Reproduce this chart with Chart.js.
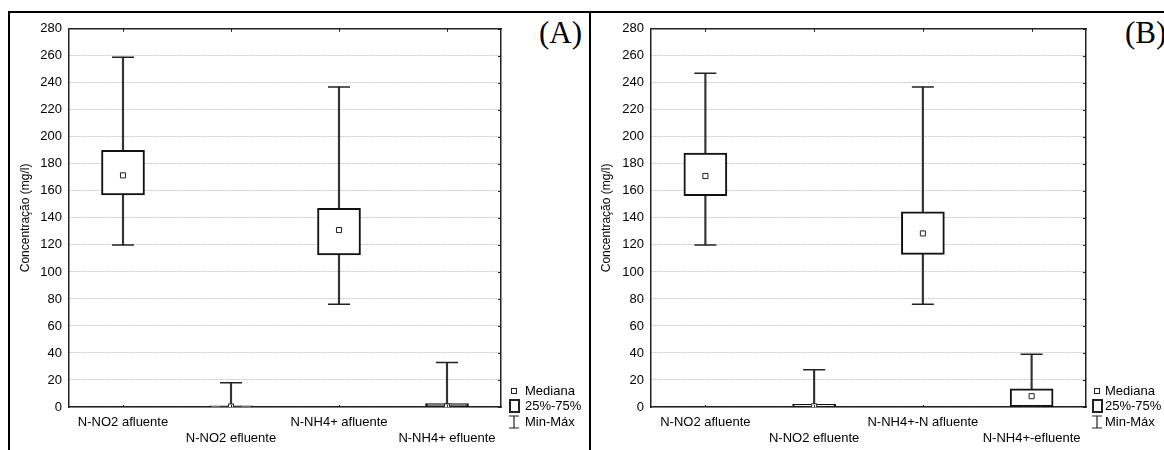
<!DOCTYPE html>
<html>
<head>
<meta charset="utf-8">
<script src="https://cdn.jsdelivr.net/npm/chart.js@4.4.1/dist/chart.umd.min.js"></script>
<style>
  body { margin: 0; background: #fff; width: 1164px; height: 450px; overflow: hidden; position: relative; }
  canvas { position: absolute; }
  .line { position: absolute; background: #000; }
  .tag { position: absolute; font-family: "Liberation Serif", "Times New Roman", serif; font-size: 31px; color: #000; line-height: 1; }
</style>
</head>
<body>
<div class="line" style="left:8px; top:11px; width:1156px; height:2px"></div>
<div class="line" style="left:8px; top:11px; width:2px; height:439px"></div>
<div class="line" style="left:589px; top:11px; width:2px; height:439px"></div>
<div class="tag" style="left:539px; top:17px">(A)</div>
<div class="tag" style="left:1125px; top:17px">(B)</div>
<canvas id="chart-a" width="578" height="436" style="left:11px; top:14px"></canvas>
<canvas id="chart-b" width="572" height="436" style="left:592px; top:14px"></canvas>
<script>
// Panel A
const catsA = ['N-NO2 afluente', 'N-NO2 efluente', 'N-NH4+ afluente', 'N-NH4+ efluente']
const minA = [120, 0, 76, 0]
const q1A = [157, 0, 112.5, 0]
const medA = [171.5, 0.4, 131, 0.4]
const q3A = [190, 0.8, 147, 2.6]
const maxA = [259, 18, 237, 33]

// Panel B
const catsB = ['N-NO2 afluente', 'N-NO2 efluente', 'N-NH4+-N afluente', 'N-NH4+-efluente']
const minB = [120, 0, 76, 0]
const q1B = [156.5, 0, 113, 0.3]
const medB = [171, 0.5, 128.5, 8]
const q3B = [188, 2, 144.5, 13.5]
const maxB = [247, 27.5, 237, 39]

// y axis ticks
const yMin = 0
const yMax = 280
const yStep = 20
const legendItems = ['Mediana', '25%-75%', 'Min-Máx']

const txt = '#000'
const ink = '#222'
const sans = 'Arial, "Liberation Sans", sans-serif'

// draws the inward ticks on top/right/bottom and the legend box
const framePlugin = {
  id: 'frame',
  afterDraw(chart, args, opts) {
    const { ctx, chartArea: a, scales: { x, y } } = chart
    ctx.save()
    ctx.strokeStyle = ink
    ctx.lineWidth = 1
    ctx.beginPath()
    y.ticks.forEach(t => {
      const py = Math.round(y.getPixelForValue(t.value)) + 0.5
      ctx.moveTo(a.right, py); ctx.lineTo(a.right - 3, py)
    })
    x.ticks.forEach((t, i) => {
      const px = Math.round(x.getPixelForValue(i)) + 0.5
      ctx.moveTo(px, a.top); ctx.lineTo(px, a.top + 3)
      ctx.moveTo(px, a.bottom); ctx.lineTo(px, a.bottom - 2)
    })
    ctx.stroke()

    // legend
    const ix = a.right + opts.icon
    const tx = a.right + opts.text
    const ys = [a.bottom - 16, a.bottom - 1, a.bottom + 15]
    ctx.fillStyle = '#fff'
    ctx.lineWidth = 1
    ctx.strokeRect(ix - 2.5, ys[0] - 2.5, 5, 5)
    ctx.lineWidth = 2
    ctx.strokeRect(ix - 4, ys[1] - 6, 9, 12)
    ctx.lineWidth = 1.2
    ctx.beginPath()
    ctx.moveTo(ix - 5, ys[2] - 6); ctx.lineTo(ix + 5, ys[2] - 6)
    ctx.moveTo(ix, ys[2] - 6); ctx.lineTo(ix, ys[2] + 6)
    ctx.moveTo(ix - 5, ys[2] + 6); ctx.lineTo(ix + 5, ys[2] + 6)
    ctx.stroke()
    ctx.fillStyle = txt
    ctx.font = '13px ' + sans
    ctx.textBaseline = 'middle'
    legendItems.forEach((s, i) => ctx.fillText(s, tx, ys[i]))
    ctx.restore()
  }
}

function makeChart(canvas, cats, mins, q1s, meds, q3s, maxs, sizes) {
  return new Chart(canvas, {
    data: {
      labels: cats,
      datasets: [
        {
          type: 'line', data: meds, showLine: false, order: 1,
          pointStyle: 'rect', pointRadius: 3.6, pointBackgroundColor: '#fff',
          pointBorderColor: ink, pointBorderWidth: 1
        },
        {
          type: 'line', data: maxs, showLine: false, order: 2,
          pointStyle: 'line', pointRadius: 11, pointBorderColor: ink, pointBorderWidth: 1.5
        },
        {
          type: 'line', data: mins, showLine: false, order: 2,
          pointStyle: 'line', pointRadius: 11, pointBorderColor: ink, pointBorderWidth: 1.5
        },
        {
          type: 'bar', data: q1s.map((q, i) => [q, q3s[i]]), order: 3, grouped: false,
          barThickness: 43, backgroundColor: '#fff', borderColor: '#111',
          borderWidth: 2, borderSkipped: false
        },
        {
          type: 'bar', data: mins.map((m, i) => [m, maxs[i]]), order: 4, grouped: false,
          barThickness: 1.5, backgroundColor: '#333', borderWidth: 0
        }
      ]
    },
    options: {
      responsive: false,
      animation: false,
      layout: { padding: { top: 11, left: 0, right: 0, bottom: 0 } },
      plugins: {
        legend: { display: false },
        tooltip: { enabled: false },
        frame: { icon: sizes.icon, text: sizes.text }
      },
      scales: {
        x: {
          offset: true,
          grid: { display: false, drawTicks: false },
          border: { color: ink, width: 1.5 },
          ticks: {
            color: txt, font: { family: sans, size: 13, lineHeight: 1.25 },
            padding: 7, maxRotation: 0, autoSkip: false,
            callback: function (v, i) {
              const l = this.getLabelForValue(v)
              return i % 2 ? ['', l] : l
            }
          },
          afterFit: s => { s.height = 43 }
        },
        xTop: {
          position: 'top', offset: true,
          grid: { display: false, drawTicks: false },
          ticks: { display: false },
          border: { color: ink, width: 1.5 },
          afterFit: s => { s.height = 0 }
        },
        y: {
          min: yMin, max: yMax,
          ticks: { stepSize: yStep, padding: 7, color: txt, font: { family: sans, size: 13 } },
          grid: { color: '#c8c8c8', drawTicks: false },
          border: { color: ink, width: 1.5, dash: [2, 1] },
          title: {
            display: true, text: 'Concentração (mg/l)', color: txt,
            font: { family: sans, size: 12 }, padding: { top: 7, bottom: 0 }
          },
          afterFit: s => { s.width = sizes.left }
        },
        yRight: {
          position: 'right', min: yMin, max: yMax,
          grid: { display: false, drawTicks: false },
          ticks: { display: false },
          border: { color: ink, width: 1.5 },
          afterFit: s => { s.width = sizes.right }
        }
      }
    },
    plugins: [framePlugin]
  })
}

makeChart(document.querySelector('#chart-a'), catsA, minA, q1A, medA, q3A, maxA,
  { left: 58, right: 88, icon: 13, text: 24 })
makeChart(document.querySelector('#chart-b'), catsB, minB, q1B, medB, q3B, maxB,
  { left: 59, right: 78, icon: 11, text: 19 })
</script>
</body>
</html>
